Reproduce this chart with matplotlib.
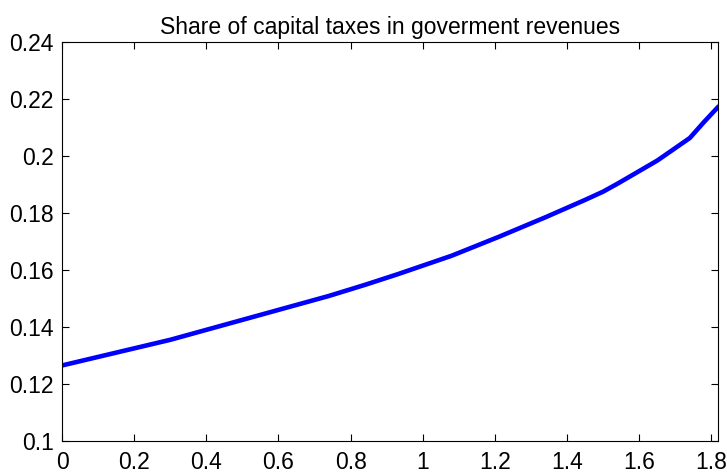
import matplotlib
matplotlib.use('Agg')
import matplotlib.pyplot as plt
import numpy as np

# values
x_vals = [0.0, 0.1, 0.2, 0.3, 0.4, 0.5, 0.6, 0.74, 0.84, 0.93, 1.08, 1.21, 1.34,
          1.45, 1.5, 1.54, 1.65, 1.74, 1.78, 1.817]
share = [0.1265, 0.1295, 0.1325, 0.1355, 0.1390, 0.1425, 0.1460, 0.1509, 0.1548,
         0.1585, 0.1650, 0.1716, 0.1785, 0.1846, 0.1875, 0.1903, 0.1984, 0.2063,
         0.2120, 0.2170]

xticks = [0, 0.2, 0.4, 0.6, 0.8, 1, 1.2, 1.4, 1.6, 1.8]
xticklabels = ['0', '0.2', '0.4', '0.6', '0.8', '1', '1.2', '1.4', '1.6', '1.8']
yticks = [0.1, 0.12, 0.14, 0.16, 0.18, 0.2, 0.22, 0.24]
yticklabels = ['0.1', '0.12', '0.14', '0.16', '0.18', '0.2', '0.22', '0.24']

plt.rcParams['font.family'] = ['Liberation Sans', 'DejaVu Sans']

fig = plt.figure(figsize=(7.27, 4.75), dpi=100)
ax = fig.add_axes([0.0853, 0.0716, 0.9017, 0.84])

ax.plot(x_vals, share, color='#0000ff', linewidth=3.3)

ax.set_xlim(0, 1.817)
ax.set_ylim(0.1, 0.24)
ax.set_xticks(xticks)
ax.set_xticklabels(xticklabels)
ax.set_yticks(yticks)
ax.set_yticklabels(yticklabels)
ax.tick_params(direction='in', length=5, width=0.8, top=True, right=True,
               labelsize=16.5)
ax.tick_params(axis='x', pad=7)
ax.tick_params(axis='y', pad=6)
for s in ax.spines.values():
    s.set_linewidth(0.8)

ax.set_title('Share of capital taxes in goverment revenues', fontsize=16.5, pad=6)

fig.savefig('out.png', dpi=100)
